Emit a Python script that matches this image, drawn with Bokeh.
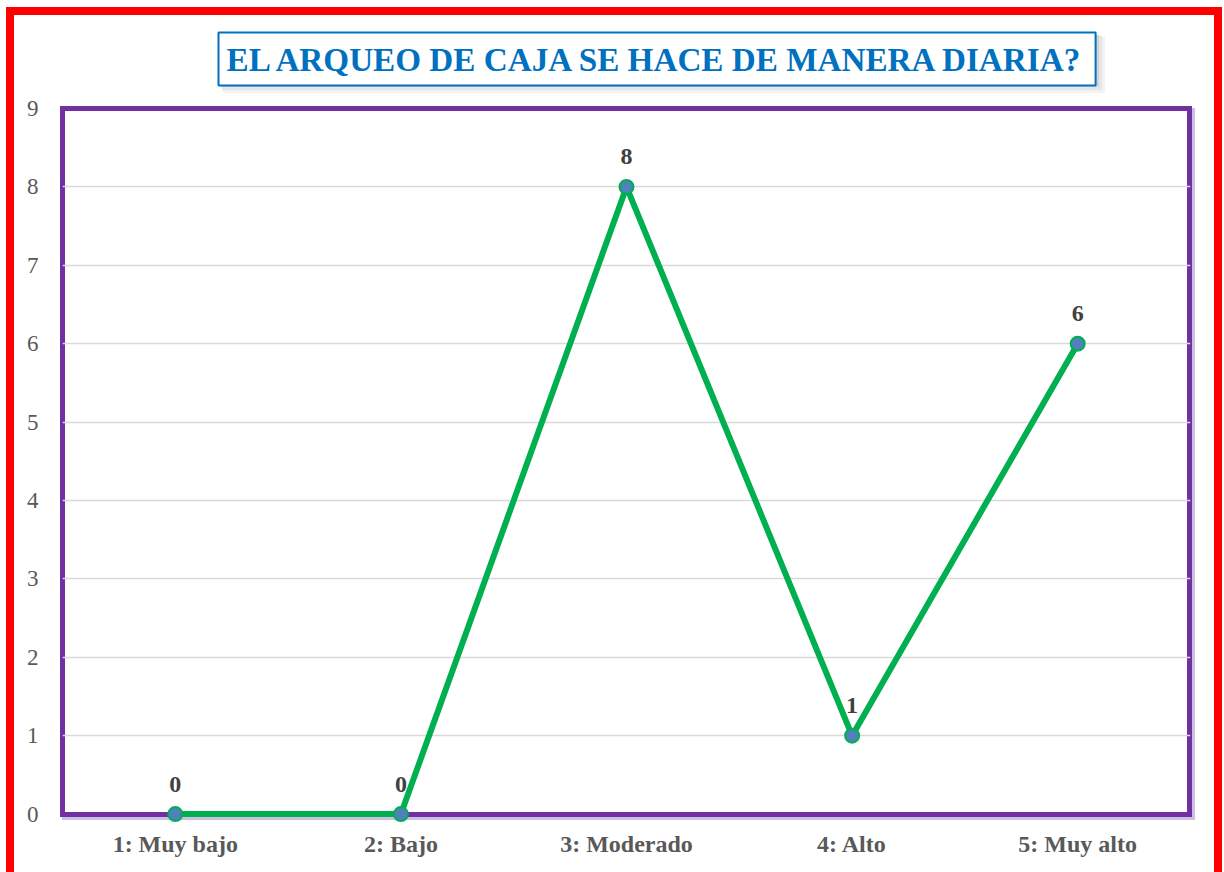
from bokeh.plotting import figure
from bokeh.models import FactorRange, Range1d, FixedTicker, ColumnDataSource
from bokeh.embed import file_html
from bokeh.resources import INLINE
from bokeh.core.properties import value

categories = ["1: Muy bajo", "2: Bajo", "3: Moderado", "4: Alto", "5: Muy alto"]
counts = [0, 0, 8, 1, 6]
y_ticks = [0, 1, 2, 3, 4, 5, 6, 7, 8, 9]
grid_ticks = [1, 2, 3, 4, 5, 6, 7, 8]
title_text = "EL ARQUEO DE CAJA SE HACE DE MANERA DIARIA?"

src = ColumnDataSource(dict(x=categories, y=counts, lbl=[str(v) for v in counts]))

# the frame reaches a little below 0 so that the markers at 0 are not cut in half;
# the purple box itself is painted behind the (transparent) canvas
p = figure(x_range=FactorRange(factors=categories), y_range=Range1d(-0.12, 9),
           width=1224, height=872, output_backend="svg", toolbar_location=None,
           min_border_left=62, min_border_right=34, min_border_top=108, min_border_bottom=49)

p.border_fill_color = None
p.background_fill_color = None
p.outline_line_color = None
p.styles = {
    "background":
        "linear-gradient(#FFFFFF,#FFFFFF) 65px 111px / 1122px 701px no-repeat, "
        "linear-gradient(#7030A0,#7030A0) 60px 106px / 1132px 711px no-repeat, "
        "linear-gradient(#CDBFE2,#CDBFE2) 62px 108px / 1133px 712px no-repeat, "
        "linear-gradient(#FF0000,#FF0000) 6px 7px / 8px 900px no-repeat, "
        "linear-gradient(#FF0000,#FF0000) 1214px 7px / 8px 900px no-repeat, "
        "linear-gradient(#FF0000,#FF0000) 6px 7px / 1216px 8px no-repeat, "
        "linear-gradient(#D4D4D4,#D4D4D4) 221px 35px / 878px 52px no-repeat, "
        "linear-gradient(#E6E6E6,#E6E6E6) 222px 36px / 880px 54px no-repeat, "
        "linear-gradient(#F2F2F2,#F2F2F2) 223px 37px / 882px 56px no-repeat, "
        "#FFFFFF"
}

p.title.text = title_text
p.title.align = "left"
p.title.offset = 156
p.title.text_font = "Liberation Serif"
p.title.text_font_style = "bold"
p.title.text_font_size = "33.2px"
p.title.text_color = "#0070C0"
p.title.border_line_color = "#0070C0"
p.title.border_line_width = 2
p.title.background_fill_color = "white"
p.title.padding = 8
p.title.standoff = 46

p.xgrid.grid_line_color = None
p.ygrid.ticker = FixedTicker(ticks=grid_ticks)
p.ygrid.grid_line_color = "#D9D9D9"
p.ygrid.grid_line_width = 1.5

p.yaxis.ticker = FixedTicker(ticks=y_ticks)
for ax in (p.xaxis, p.yaxis):
    ax.axis_line_color = None
    ax.major_tick_line_color = None
    ax.minor_tick_line_color = None
    ax.major_label_text_font = "Liberation Serif"
    ax.major_label_text_color = "#595959"
p.yaxis.major_label_text_font_size = "23px"
p.yaxis.major_label_standoff = 18
p.xaxis.major_label_text_font_size = "24px"
p.xaxis.major_label_text_font_style = "bold"
p.xaxis.major_label_standoff = 1

p.line("x", "y", source=src, line_color="#00B050", line_width=6)
p.scatter("x", "y", source=src, size=14, fill_color="#4F81BD", line_color="#00B050", line_width=2)
p.text("x", "y", text="lbl", source=src, text_font=value("Liberation Serif"), text_font_style="bold",
       text_font_size="24px", text_color="#404040", text_align="center",
       text_baseline="alphabetic", y_offset=-30)

open("out.html", "w").write(file_html(p, INLINE))
